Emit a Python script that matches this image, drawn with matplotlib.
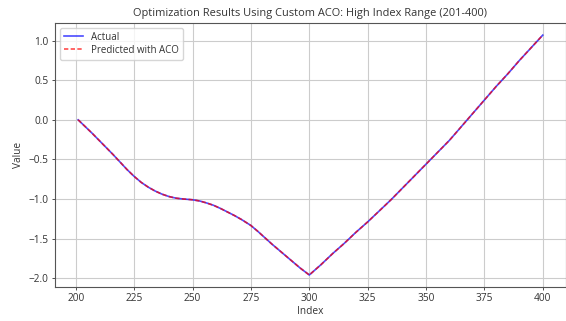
import matplotlib
matplotlib.use("Agg")
import matplotlib.pyplot as plt
import numpy as np

# values
index = [201, 204, 207, 210, 213, 216, 219, 222, 225,
         228, 231, 234, 237, 240, 243, 246, 250,
         253, 256, 259, 262, 265, 268, 271, 275,
         278, 281, 284, 287, 290, 293, 296, 300,
         305, 310, 315, 320, 325, 330, 335, 340, 345, 350,
         355, 360, 365, 370, 375, 380, 385, 390, 395, 400]
actual = [0.00, -0.085, -0.17, -0.26, -0.35, -0.44, -0.535, -0.63, -0.715,
          -0.79, -0.85, -0.90, -0.94, -0.97, -0.99, -1.00, -1.01,
          -1.025, -1.05, -1.08, -1.12, -1.165, -1.21, -1.26, -1.335,
          -1.41, -1.49, -1.57, -1.645, -1.72, -1.795, -1.87, -1.96,
          -1.83, -1.69, -1.56, -1.42, -1.29, -1.15, -1.01, -0.86, -0.71, -0.56,
          -0.41, -0.26, -0.09, 0.08, 0.25, 0.42, 0.58, 0.75, 0.91, 1.07]
predicted = actual  # ACO prediction sits right on top of the actual curve

plt.rcParams['font.family'] = ['Open Sans', 'DejaVu Sans']
plt.rcParams.update({'font.size': 7.5, 'text.color': '#333333',
                     'axes.labelcolor': '#333333',
                     'xtick.color': '#333333', 'ytick.color': '#333333'})

fig = plt.figure(figsize=(5.66, 3.21), dpi=100)
ax = fig.add_axes([0.097, 0.106, 0.903, 0.822])

ax.plot(index, actual, color='blue', alpha=0.7, linewidth=1.2, label='Actual')
ax.plot(index, predicted, 'r--', alpha=0.7, linewidth=1.2, dashes=(2.6, 1.4),
        label='Predicted with ACO')

ax.set_title("Optimization Results Using Custom ACO: High Index Range (201-400)",
             fontsize=7.9, pad=5)
ax.set_xlabel("Index", fontsize=7.3, labelpad=1)
ax.set_ylabel("Value", fontsize=7.3, labelpad=3)
ax.set_xticks(np.arange(200, 401, 25))
ax.set_yticks(np.arange(-2.0, 1.01, 0.5))
ax.tick_params(length=2.5, width=0.6, pad=2, labelsize=7.3)
ax.grid(True, color='#cccccc', linewidth=0.8)
for s in ax.spines.values():
    s.set_linewidth(0.8)
    s.set_color('#555555')
ax.legend(loc='upper left', fontsize=7, handlelength=2, borderpad=0.4,
          labelspacing=0.2)

fig.savefig("out.png", dpi=100)
